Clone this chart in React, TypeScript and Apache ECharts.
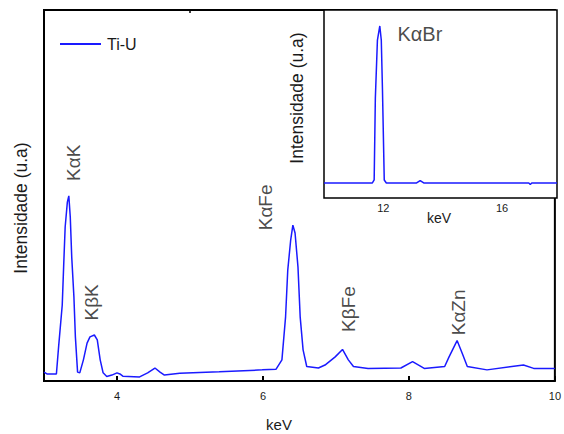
import React, { useEffect, useRef } from "react";
import * as echarts from "echarts";

// Main spectrum (keV vs intensity, arbitrary units 0-100)
const mainKeV = [
  3.0, 3.04, 3.17, 3.2, 3.25, 3.27, 3.29, 3.32, 3.34, 3.36, 3.38, 3.41, 3.43, 3.46, 3.49,
  3.54, 3.59, 3.63, 3.69, 3.73, 3.77, 3.81, 3.86, 3.93, 4.0, 4.04, 4.08, 4.31, 4.42, 4.52,
  4.59, 4.65, 4.86, 5.4, 5.99, 6.18, 6.26, 6.31, 6.34, 6.38, 6.41, 6.44, 6.48, 6.51, 6.55,
  6.6, 6.76, 6.85, 6.99, 7.09, 7.17, 7.24, 7.44, 7.89, 8.05, 8.21, 8.49, 8.55, 8.66, 8.73,
  8.8, 9.07, 9.57, 9.71, 9.98, 10.0,
];
const mainIntensity = [
  2.4, 1.9, 1.9, 9.2, 20.5, 31.3, 41.5, 48.2, 49.9, 44.2, 33.4, 22.6, 11.9, 2.4, 2.2,
  5.7, 10.2, 11.9, 12.4, 11.1, 5.7, 2.2, 1.2, 1.6, 2.2, 1.9, 1.3, 1.1, 2.2, 3.5,
  2.4, 1.6, 2.1, 2.5, 3.0, 3.2, 5.7, 17.3, 29.9, 38.0, 42.0, 39.9, 30.7, 17.3, 8.4,
  3.9, 3.5, 4.3, 6.5, 8.5, 5.7, 3.9, 3.4, 3.5, 5.2, 3.4, 3.9, 6.5, 10.9, 7.5,
  3.9, 3.0, 4.3, 3.4, 3.4, 3.4,
];

// Inset spectrum
const insetKeV = [10.0, 11.63, 11.69, 11.73, 11.8, 11.88, 11.93, 11.97, 12.03, 12.1, 13.12, 13.24, 13.36, 16.9, 16.95, 17.0, 17.85];
const insetIntensity = [8.0, 8.0, 9.6, 53.2, 84.0, 91.5, 84.0, 57.4, 9.6, 8.0, 8.0, 9.3, 8.0, 8.0, 7.2, 8.0, 8.0];

const mainTickLabels = [4, 6, 8, 10];
const mainMinorTicks = [3, 5, 7, 9];
const insetTickLabels = [12, 16];

const peakNames = ["KαK", "KβK", "KαFe", "KβFe", "KαZn"];
const peakLabelKeV = [3.41, 3.65, 6.04, 7.17, 8.68];
const peakLabelIntensity = [58.8, 21.2, 46.8, 19.4, 18.5];

const insetPeakNames = ["KαBr"];
const insetPeakKeV = [13.23];
const insetPeakIntensity = [87.5];

const FONT = "'Liberation Sans', Arial, sans-serif";
const BLUE = "#1a1aff";
const INK = "#1a1a1a";

export default function App() {
  const ref = useRef<HTMLDivElement>(null);
  useEffect(() => {
    if (!ref.current) return;
    const chart = echarts.init(ref.current, null, { renderer: "svg" });
    const mainData = mainKeV.map((x, i) => [x, mainIntensity[i]]);
    const insetData = insetKeV.map((x, i) => [x, insetIntensity[i]]);
    const peakData = peakNames.map((n, i) => ({ name: n, value: [peakLabelKeV[i], peakLabelIntensity[i]] }));
    const insetPeakData = insetPeakNames.map((n, i) => ({ name: n, value: [insetPeakKeV[i], insetPeakIntensity[i]] }));

    chart.setOption({
      animation: false,
      backgroundColor: "#fff",
      textStyle: { fontFamily: FONT },
      grid: [
        { left: 44, top: 10, right: 7, bottom: 53, show: true, borderColor: "#000", borderWidth: 2, backgroundColor: "transparent" },
        { left: 324, top: 10, right: 7, bottom: 236, show: true, borderColor: "#000", borderWidth: 1.5, backgroundColor: "#fff", z: 3 },
      ],
      legend: {
        data: [{ name: "Ti-U", icon: "rect" }],
        left: 55,
        top: 31,
        itemWidth: 41,
        itemHeight: 2,
        itemGap: 5,
        textStyle: { fontFamily: FONT, fontSize: 16, color: INK, padding: [0, 0, 0, 1] },
      },
      xAxis: [
        {
          type: "value", gridIndex: 0, min: 3, max: 10,
          axisLine: { show: false },
          splitLine: { show: false },
          axisTick: { show: true, inside: true, length: 5, lineStyle: { color: "#000", width: 2 }, customValues: mainTickLabels },
          axisLabel: { show: true, customValues: mainTickLabels, fontSize: 11, color: INK, margin: 9, fontFamily: FONT },
        },
        {
          type: "value", gridIndex: 0, min: 3, max: 10,
          axisLine: { show: false },
          splitLine: { show: false },
          axisTick: { show: true, inside: true, length: 3, lineStyle: { color: "#000", width: 1.5 }, customValues: mainMinorTicks },
          axisLabel: { show: false },
        },
        {
          type: "value", gridIndex: 1, min: 10, max: 17.85,
          axisLine: { show: false },
          splitLine: { show: false },
          axisTick: { show: false },
          axisLabel: { show: true, customValues: insetTickLabels, fontSize: 11, color: INK, margin: 4, fontFamily: FONT },
        },
      ],
      yAxis: [
        { type: "value", gridIndex: 0, min: 0, max: 100, axisLine: { show: false }, axisTick: { show: false }, axisLabel: { show: false }, splitLine: { show: false } },
        { type: "value", gridIndex: 1, min: 0, max: 100, axisLine: { show: false }, axisTick: { show: false }, axisLabel: { show: false }, splitLine: { show: false } },
      ],
      series: [
        {
          name: "Ti-U", type: "line", xAxisIndex: 0, yAxisIndex: 0, data: mainData,
          symbol: "none", lineStyle: { color: BLUE, width: 1.5 }, itemStyle: { color: BLUE },
        },
        {
          name: "inset", type: "line", xAxisIndex: 2, yAxisIndex: 1, data: insetData, z: 4,
          symbol: "none", lineStyle: { color: BLUE, width: 1.5 }, itemStyle: { color: BLUE },
        },
        {
          name: "peaks", type: "scatter", xAxisIndex: 0, yAxisIndex: 0, data: peakData,
          symbolSize: 0, silent: true,
          label: { show: true, position: "inside", rotate: 90, formatter: "{b}", fontSize: 19, color: INK, fontFamily: FONT },
        },
        {
          name: "insetPeaks", type: "scatter", xAxisIndex: 2, yAxisIndex: 1, data: insetPeakData,
          symbolSize: 0, silent: true, z: 5,
          label: { show: true, position: "inside", formatter: "{b}", fontSize: 20, color: INK, fontFamily: FONT },
        },
      ],
      graphic: [
        { type: "text", x: 21, y: 208, rotation: Math.PI / 2, style: { text: "Intensidade (u.a)", fontSize: 17.5, fontFamily: FONT, fill: INK, align: "center", verticalAlign: "middle" } },
        { type: "text", x: 297, y: 98, rotation: Math.PI / 2, z: 10, style: { text: "Intensidade (u.a)", fontSize: 17.5, fontFamily: FONT, fill: INK, align: "center", verticalAlign: "middle" } },
        { type: "text", x: 279, y: 424, style: { text: "keV", fontSize: 15, fontFamily: FONT, fill: INK, align: "center", verticalAlign: "middle" } },
        { type: "text", x: 439, y: 218, z: 10, style: { text: "keV", fontSize: 14, fontFamily: FONT, fill: INK, align: "center", verticalAlign: "middle" } },
      ],
    });
    return () => chart.dispose();
  }, []);
  return <div ref={ref} style={{ position: "fixed", left: 0, top: 0, width: 564, height: 434 }} />;
}
